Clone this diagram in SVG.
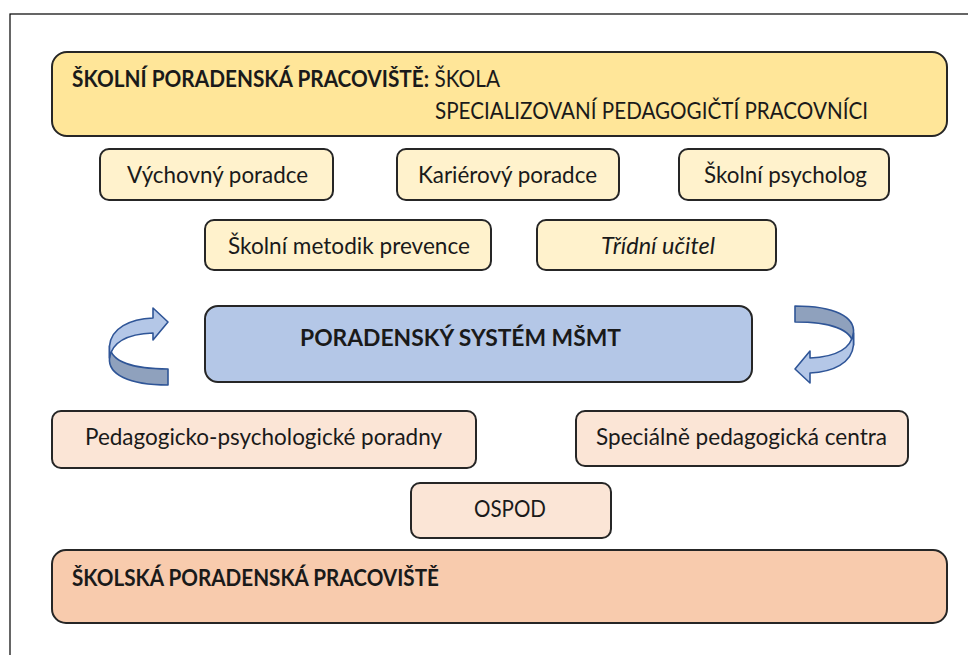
<svg xmlns="http://www.w3.org/2000/svg" width="968" height="655" viewBox="0 0 968 655">
<style>
  .frame { fill: none; stroke: #000; stroke-width: 1.2; }
  .box { stroke: #262626; stroke-width: 2; }
  .gold { fill: #ffe699; }
  .cream { fill: #fff2cc; }
  .blue { fill: #b4c7e7; }
  .peach { fill: #fbe5d6; }
  .salmon { fill: #f8cbad; }
  text { font-family: Lato, "Open Sans", "Noto Sans", sans-serif; fill: #1a1a1a; font-size: 23px; }
  .b { font-weight: bold; }
  .arrowFront { fill: #b4c7e7; stroke: #2f5597; stroke-width: 1.6; stroke-linejoin: round; }
  .arrowBack { fill: #8fa1bd; stroke: #2f5597; stroke-width: 1.6; stroke-linejoin: round; }
</style>
<defs>
  <g id="cycleArrow">
    <path class="arrowBack" d="M109.5,346 C111,362 134,369 168,369 L168,385 C128,385 108,374 109.5,358 Z"/>
    <path class="arrowFront" d="M109.5,358 L109.5,346 C111,328 130,319 153,318 L153,308 L168,322 L153,340 L153,333 C128,334 112,342 109.5,358 Z"/>
  </g>
</defs>
<rect class="frame" x="10" y="14" width="1000" height="700"/>

<g id="skolni-poradenska-pracoviste">
  <rect class="box gold" x="52" y="52" width="895" height="84" rx="15"/>
  <text x="72" y="87" font-size="21.5" textLength="428" lengthAdjust="spacingAndGlyphs"><tspan class="b">ŠKOLNÍ PORADENSKÁ PRACOVIŠTĚ:</tspan> ŠKOLA</text>
  <text x="435" y="119" font-size="22" textLength="433" lengthAdjust="spacingAndGlyphs">SPECIALIZOVANÍ PEDAGOGIČTÍ PRACOVNÍCI</text>
</g>

<g id="vychovny-poradce">
  <rect class="box cream" x="100" y="149" width="233" height="51" rx="9"/>
  <text x="127" y="183" textLength="181" lengthAdjust="spacingAndGlyphs">Výchovný poradce</text>
</g>
<g id="karierovy-poradce">
  <rect class="box cream" x="397" y="149" width="222" height="51" rx="9"/>
  <text x="418" y="183" textLength="179" lengthAdjust="spacingAndGlyphs">Kariérový poradce</text>
</g>
<g id="skolni-psycholog">
  <rect class="box cream" x="679" y="149" width="210" height="51" rx="9"/>
  <text x="704" y="183" textLength="163" lengthAdjust="spacingAndGlyphs">Školní psycholog</text>
</g>
<g id="skolni-metodik-prevence">
  <rect class="box cream" x="205" y="220" width="286" height="50" rx="9"/>
  <text x="228" y="254" textLength="242" lengthAdjust="spacingAndGlyphs">Školní metodik prevence</text>
</g>
<g id="tridni-ucitel">
  <rect class="box cream" x="537" y="220" width="239" height="50" rx="9"/>
  <text x="601" y="254" font-style="italic" textLength="114" lengthAdjust="spacingAndGlyphs">Třídní učitel</text>
</g>

<g id="poradensky-system">
  <rect class="box blue" x="205" y="306" width="547" height="76" rx="13"/>
  <text class="b" x="300" y="346" font-size="26" textLength="321" lengthAdjust="spacingAndGlyphs">PORADENSKÝ SYSTÉM MŠMT</text>
</g>

<g id="connectors">
  <use href="#cycleArrow"/>
  <use href="#cycleArrow" transform="rotate(180 481.5 345.5)"/>
</g>

<g id="pedagogicko-psychologicke-poradny">
  <rect class="box peach" x="52" y="411" width="424" height="57" rx="9"/>
  <text x="85" y="445" textLength="357" lengthAdjust="spacingAndGlyphs">Pedagogicko-psychologické poradny</text>
</g>
<g id="specialne-pedagogicka-centra">
  <rect class="box peach" x="576" y="411" width="332" height="55" rx="9"/>
  <text x="596" y="445" textLength="291" lengthAdjust="spacingAndGlyphs">Speciálně pedagogická centra</text>
</g>
<g id="ospod">
  <rect class="box peach" x="411" y="483" width="200" height="55" rx="9"/>
  <text x="474" y="517" textLength="72" lengthAdjust="spacingAndGlyphs">OSPOD</text>
</g>

<g id="skolska-poradenska-pracoviste">
  <rect class="box salmon" x="52" y="550" width="895" height="73" rx="14"/>
  <text class="b" x="72" y="586" font-size="22" textLength="367" lengthAdjust="spacingAndGlyphs">ŠKOLSKÁ PORADENSKÁ PRACOVIŠTĚ</text>
</g>
</svg>
